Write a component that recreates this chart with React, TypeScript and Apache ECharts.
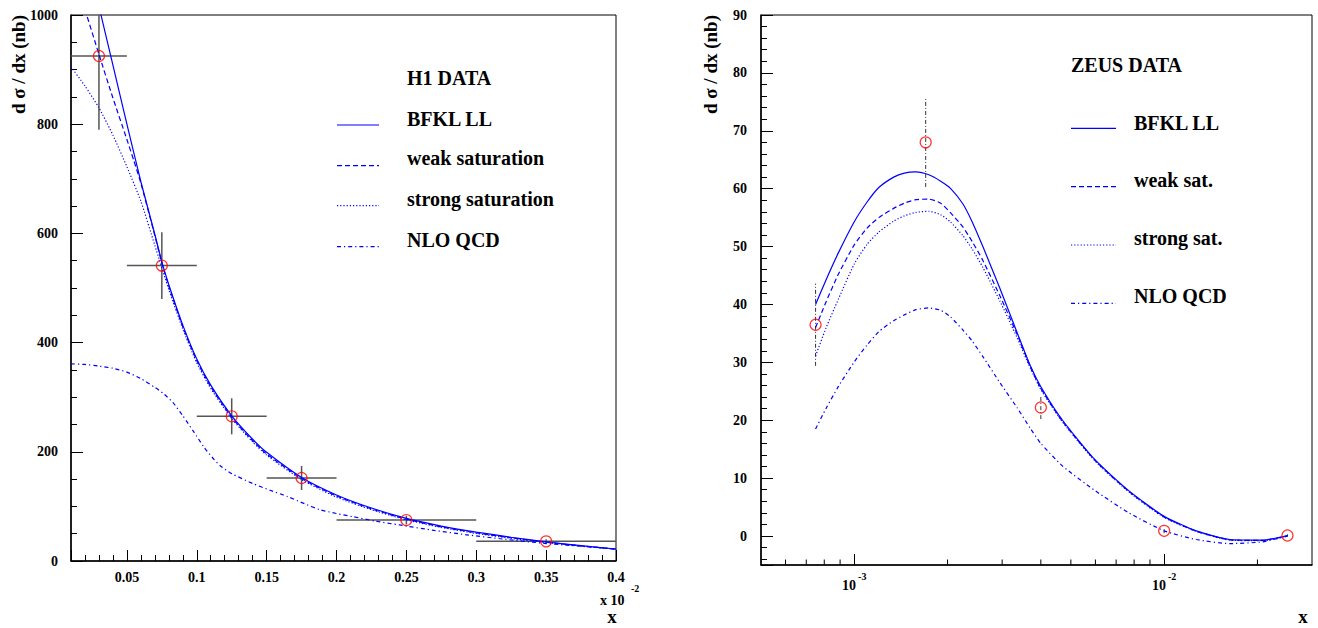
import React, { useEffect, useRef } from "react";
import * as echarts from "echarts";

const FONT = "'Liberation Serif', 'Times New Roman', serif";
const BLUE = "#0000ff";

// ---------- Left panel (H1) ----------
const LEFT_X_MIN = 0.01;
const LEFT_X_MAX = 0.4;
const LEFT_Y_MIN = 0;
const LEFT_Y_MAX = 1000;

const h1X = [0.03, 0.075, 0.125, 0.175, 0.25, 0.35];
const h1Y = [925, 541, 265, 152, 75, 36];
const h1XLow = [0.01, 0.05, 0.1, 0.15, 0.2, 0.3];
const h1XHigh = [0.05, 0.1, 0.15, 0.2, 0.3, 0.4];
const h1YErr = [135, 61, 33, 22, 8, 4];

const leftBfklX = [0.03, 0.04, 0.05, 0.06, 0.07, 0.075, 0.08, 0.09, 0.1, 0.11, 0.125, 0.14, 0.15, 0.175, 0.2, 0.225, 0.25, 0.275, 0.3, 0.325, 0.35, 0.375, 0.4];
const leftBfklY = [1016, 908, 800, 695, 598, 548, 506, 432, 370, 322, 266, 223, 199, 153, 121, 97, 78, 64, 53, 43.5, 35, 28, 22];

const leftWeakX = [0.02, 0.03, 0.04, 0.05, 0.055, 0.06, 0.07, 0.075, 0.08, 0.09, 0.1, 0.11, 0.125, 0.14, 0.15, 0.175, 0.2, 0.225, 0.25, 0.275, 0.3, 0.325, 0.35, 0.375, 0.4];
const leftWeakY = [1010, 928, 848, 772, 733, 692, 596, 546, 503, 429, 367, 319, 263, 220, 196, 151, 119, 95.5, 76.5, 62.5, 51.5, 42.5, 34.5, 27.8, 21.8];

const leftStrongX = [0.01, 0.02, 0.03, 0.04, 0.05, 0.06, 0.07, 0.08, 0.09, 0.1, 0.11, 0.125, 0.14, 0.15, 0.175, 0.2, 0.225, 0.25, 0.275, 0.3, 0.325, 0.35, 0.375, 0.4];
const leftStrongY = [905, 870, 830, 780, 722, 659, 578, 497, 425, 363, 316, 261, 218, 194, 149, 117, 94, 75.5, 61.5, 50.5, 41.5, 34, 27.5, 21.5];

const leftNloX = [0.01, 0.02, 0.03, 0.04, 0.05, 0.06, 0.07, 0.076, 0.083, 0.09, 0.098, 0.105, 0.111, 0.117, 0.125, 0.14, 0.152, 0.165, 0.177, 0.188, 0.2, 0.212, 0.228, 0.245, 0.27, 0.293, 0.32, 0.35, 0.375, 0.4];
const leftNloY = [361, 360, 357, 353, 346, 334, 318, 307, 290, 266, 236, 209, 190, 174, 160, 142, 130, 118, 105, 94, 87, 81, 73, 66, 56, 48, 40, 32, 27, 22];

// ---------- Right panel (ZEUS) ----------
const RIGHT_X_MIN = 5e-4;
const RIGHT_X_MAX = 0.03;
const RIGHT_Y_MIN = -5;
const RIGHT_Y_MAX = 90;

const zeusX = [7.5e-4, 1.7e-3, 4.0e-3, 1.0e-2, 2.5e-2];
const zeusY = [36.5, 68.0, 22.2, 0.9, 0.1];
const zeusErr = [7.1, 7.7, 2.0, 0.4, 0.2];

const rightX = [7.5e-4, 8.1e-4, 8.9e-4, 1.0e-3, 1.1e-3, 1.2e-3, 1.34e-3, 1.45e-3, 1.58e-3, 1.74e-3, 1.9e-3, 2.04e-3, 2.24e-3, 2.4e-3, 2.6e-3, 2.95e-3, 3.35e-3, 3.7e-3, 4.0e-3, 4.7e-3, 6.0e-3, 7.7e-3, 1.0e-2, 1.27e-2, 1.63e-2, 2.08e-2, 2.5e-2];
const rightBfklY = [40.0, 44.2, 49.0, 54.3, 57.7, 60.2, 62.0, 62.7, 62.9, 62.4, 61.3, 60.1, 57.4, 54.3, 50.0, 42.8, 35.2, 29.4, 25.8, 20.0, 13.1, 7.8, 3.4, 0.9, -0.6, -0.7, 0.1];
const rightWeakY = [36.0, 40.4, 45.3, 50.3, 53.2, 55.0, 56.6, 57.5, 58.1, 58.2, 57.5, 55.9, 53.4, 50.9, 47.6, 41.5, 34.9, 29.2, 25.5, 19.8, 13.0, 7.7, 3.3, 0.85, -0.65, -0.75, 0.05];
const rightStrongY = [31.1, 35.9, 41.0, 47.0, 50.4, 52.5, 54.4, 55.3, 55.9, 56.1, 55.5, 54.3, 51.9, 49.6, 46.4, 40.6, 34.3, 29.0, 25.3, 19.7, 12.9, 7.6, 3.2, 0.8, -0.7, -0.8, 0.0];
const rightNloY = [18.5, 22.0, 25.9, 30.1, 33.0, 35.3, 37.2, 38.2, 39.1, 39.4, 39.0, 37.9, 35.6, 33.7, 31.0, 26.5, 22.2, 18.6, 16.0, 12.1, 7.8, 4.0, 0.9, -0.6, -1.3, -1.0, 0.0];

const logMinorTicks = [6e-4, 7e-4, 8e-4, 9e-4, 2e-3, 3e-3, 4e-3, 5e-3, 6e-3, 7e-3, 8e-3, 9e-3, 2e-2];

const leftLegend = ["BFKL LL", "weak saturation", "strong saturation", "NLO QCD"];
const rightLegend = ["BFKL LL", "weak sat.", "strong sat.", "NLO QCD"];

const DASH_SOLID: number[] | null = null;
const DASH_WEAK = [5, 3];
const DASH_STRONG = [1.2, 2];
const DASH_NLO = [4, 3, 1.2, 3];
const dashes = [DASH_SOLID, DASH_WEAK, DASH_STRONG, DASH_NLO];

const zip = (xs: number[], ys: number[]) => xs.map((x, i) => [x, ys[i]]);

function lineSeries(name: string, data: number[][], dash: number[] | null, axis: number) {
  return {
    name,
    type: "line",
    xAxisIndex: axis,
    yAxisIndex: axis,
    data,
    showSymbol: false,
    smooth: 0.2,
    clip: true,
    silent: true,
    lineStyle: { color: BLUE, width: 1.2, type: dash ? dash : "solid" },
    z: 3,
  };
}

const labelStyle = { fontFamily: FONT, fontSize: 14, fontWeight: "bold", color: "#000" };

function legendGraphics(
  items: string[],
  header: string,
  headerX: number,
  headerY: number,
  lineX1: number,
  lineX2: number,
  textX: number,
  lineYs: number[],
  textYs: number[]
) {
  const els: any[] = [
    {
      type: "text",
      x: headerX,
      y: headerY,
      style: { text: header, fontFamily: FONT, fontSize: 20, fontWeight: "bold", fill: "#000", align: "left", verticalAlign: "middle" },
    },
  ];
  items.forEach((t, i) => {
    els.push({
      type: "line",
      shape: { x1: lineX1, y1: lineYs[i], x2: lineX2, y2: lineYs[i] },
      style: { stroke: BLUE, lineWidth: 1.2, lineDash: dashes[i] || undefined },
    });
    els.push({
      type: "text",
      x: textX,
      y: textYs[i],
      style: { text: t, fontFamily: FONT, fontSize: 20, fontWeight: "bold", fill: "#000", align: "left", verticalAlign: "middle" },
    });
  });
  return els;
}

function buildOption() {
  const h1Err = h1X.map((x, i) => [x, h1Y[i], h1XLow[i], h1XHigh[i], h1Y[i] - h1YErr[i], h1Y[i] + h1YErr[i]]);
  const zeusErrData = zeusX.map((x, i) => [x, zeusY[i], zeusY[i] - zeusErr[i], zeusY[i] + zeusErr[i]]);

  return {
    animation: false,
    backgroundColor: "#fff",
    grid: [
      { left: 71, top: 15, width: 545, height: 546, show: true, borderColor: "#000", borderWidth: 1, backgroundColor: "transparent" },
      { left: 761, top: 15, width: 551, height: 550, show: true, borderColor: "#000", borderWidth: 1, backgroundColor: "transparent" },
    ],
    xAxis: [
      {
        type: "value",
        gridIndex: 0,
        min: LEFT_X_MIN,
        max: LEFT_X_MAX,
        splitNumber: 8,
        axisLine: { show: true, onZero: false, lineStyle: { color: "#000", width: 1.5 } },
        axisTick: { show: true, inside: true, length: 11, lineStyle: { color: "#000", width: 1 } },
        minorTick: { show: true, splitNumber: 5, length: 6, lineStyle: { color: "#000", width: 1 } },
        splitLine: { show: false },
        axisLabel: { ...labelStyle, margin: 9, showMinLabel: false, showMaxLabel: true, formatter: (v: number) => String(v) },
      },
      {
        type: "log",
        logBase: 10,
        gridIndex: 1,
        min: RIGHT_X_MIN,
        max: RIGHT_X_MAX,
        axisLine: { show: true, onZero: false, lineStyle: { color: "#000", width: 1.5 } },
        axisTick: { show: true, inside: true, length: 11, lineStyle: { color: "#000", width: 1 } },
        minorTick: { show: false },
        splitLine: { show: false },
        axisLabel: {
          margin: 6,
          showMinLabel: false,
          showMaxLabel: false,
          formatter: (v: number) => `{b|10}{s|${Math.round(Math.log10(v))}}`,
          rich: {
            b: { fontFamily: FONT, fontSize: 14, fontWeight: "bold", color: "#000", lineHeight: 28 },
            s: { fontFamily: FONT, fontSize: 10, fontWeight: "bold", color: "#000", lineHeight: 12, verticalAlign: "top", padding: [0, 0, 0, 2] },
          },
        },
      },
    ],
    yAxis: [
      {
        type: "value",
        gridIndex: 0,
        min: LEFT_Y_MIN,
        max: LEFT_Y_MAX,
        interval: 200,
        axisLine: { show: true, onZero: false, lineStyle: { color: "#000", width: 1.5 } },
        axisTick: { show: true, inside: true, length: 12, lineStyle: { color: "#000", width: 1 } },
        minorTick: { show: true, splitNumber: 4, length: 6, lineStyle: { color: "#000", width: 1 } },
        splitLine: { show: false },
        axisLabel: { ...labelStyle, margin: 13, formatter: (v: number) => String(v) },
      },
      {
        type: "value",
        gridIndex: 1,
        min: RIGHT_Y_MIN,
        max: RIGHT_Y_MAX,
        splitNumber: 10,
        axisLine: { show: true, onZero: false, lineStyle: { color: "#000", width: 1.5 } },
        axisTick: { show: true, inside: true, length: 12, lineStyle: { color: "#000", width: 1 } },
        minorTick: { show: true, splitNumber: 5, length: 6, lineStyle: { color: "#000", width: 1 } },
        splitLine: { show: false },
        axisLabel: { ...labelStyle, margin: 14, showMinLabel: false, formatter: (v: number) => String(v) },
      },
    ],
    series: [
      // H1 error bars
      {
        type: "custom",
        xAxisIndex: 0,
        yAxisIndex: 0,
        silent: true,
        clip: true,
        z: 2,
        data: h1Err,
        renderItem: (_p: any, api: any) => {
          const x = api.value(0);
          const y = api.value(1);
          const pl = api.coord([Math.max(api.value(2), LEFT_X_MIN), y]);
          const pr = api.coord([Math.min(api.value(3), LEFT_X_MAX), y]);
          const pb = api.coord([x, Math.max(api.value(4), LEFT_Y_MIN)]);
          const pt = api.coord([x, Math.min(api.value(5), LEFT_Y_MAX)]);
          const st = { stroke: "#555", lineWidth: 1.5 };
          return {
            type: "group",
            children: [
              { type: "line", shape: { x1: pl[0], y1: pl[1], x2: pr[0], y2: pr[1] }, style: st },
              { type: "line", shape: { x1: pb[0], y1: pb[1], x2: pt[0], y2: pt[1] }, style: st },
            ],
          };
        },
      },
      lineSeries("BFKL LL", zip(leftBfklX, leftBfklY), DASH_SOLID, 0),
      lineSeries("weak saturation", zip(leftWeakX, leftWeakY), DASH_WEAK, 0),
      lineSeries("strong saturation", zip(leftStrongX, leftStrongY), DASH_STRONG, 0),
      lineSeries("NLO QCD", zip(leftNloX, leftNloY), DASH_NLO, 0),
      {
        name: "H1 DATA",
        type: "scatter",
        xAxisIndex: 0,
        yAxisIndex: 0,
        data: zip(h1X, h1Y),
        symbol: "circle",
        symbolSize: 11,
        silent: true,
        itemStyle: { color: "transparent", borderColor: "#ff0000", borderWidth: 1.2 },
        z: 5,
      },
      // ZEUS error bars
      {
        type: "custom",
        xAxisIndex: 1,
        yAxisIndex: 1,
        silent: true,
        clip: true,
        z: 2,
        data: zeusErrData,
        renderItem: (_p: any, api: any) => {
          const x = api.value(0);
          const pb = api.coord([x, api.value(2)]);
          const pt = api.coord([x, api.value(3)]);
          return {
            type: "line",
            shape: { x1: pb[0], y1: pb[1], x2: pt[0], y2: pt[1] },
            style: { stroke: "#333", lineWidth: 1, lineDash: [4, 2, 1, 2] },
          };
        },
      },
      lineSeries("BFKL LL ", zip(rightX, rightBfklY), DASH_SOLID, 1),
      lineSeries("weak sat.", zip(rightX, rightWeakY), DASH_WEAK, 1),
      lineSeries("strong sat.", zip(rightX, rightStrongY), DASH_STRONG, 1),
      lineSeries("NLO QCD ", zip(rightX, rightNloY), DASH_NLO, 1),
      {
        name: "ZEUS DATA",
        type: "scatter",
        xAxisIndex: 1,
        yAxisIndex: 1,
        data: zip(zeusX, zeusY),
        symbol: "circle",
        symbolSize: 11,
        silent: true,
        itemStyle: { color: "transparent", borderColor: "#ff0000", borderWidth: 1.2 },
        z: 5,
      },
      // log-axis minor ticks
      {
        type: "custom",
        xAxisIndex: 1,
        yAxisIndex: 1,
        silent: true,
        clip: false,
        z: 6,
        data: logMinorTicks.map((v) => [v, RIGHT_Y_MIN]),
        renderItem: (_p: any, api: any) => {
          const p = api.coord([api.value(0), api.value(1)]);
          return {
            type: "line",
            shape: { x1: p[0], y1: p[1], x2: p[0], y2: p[1] - 5.5 },
            style: { stroke: "#000", lineWidth: 1 },
          };
        },
      },
    ],
    graphic: [
      // axis titles
      {
        type: "text",
        x: 18,
        y: 15,
        rotation: Math.PI / 2,
        style: { text: "d σ / dx (nb)", fontFamily: FONT, fontSize: 19, fontWeight: "bold", fill: "#000", align: "right", verticalAlign: "middle" },
      },
      {
        type: "text",
        x: 710,
        y: 15,
        rotation: Math.PI / 2,
        style: { text: "d σ / dx (nb)", fontFamily: FONT, fontSize: 19, fontWeight: "bold", fill: "#000", align: "right", verticalAlign: "middle" },
      },
      {
        type: "text",
        x: 612,
        y: 616,
        style: { text: "x", fontFamily: FONT, fontSize: 19, fontWeight: "bold", fill: "#000", align: "center", verticalAlign: "middle" },
      },
      {
        type: "text",
        x: 1303,
        y: 616,
        style: { text: "x", fontFamily: FONT, fontSize: 19, fontWeight: "bold", fill: "#000", align: "center", verticalAlign: "middle" },
      },
      {
        type: "text",
        x: 600,
        y: 600,
        style: { text: "x 10", fontFamily: FONT, fontSize: 14, fontWeight: "bold", fill: "#000", align: "left", verticalAlign: "middle" },
      },
      {
        type: "text",
        x: 631,
        y: 588,
        style: { text: "-2", fontFamily: FONT, fontSize: 10, fontWeight: "bold", fill: "#000", align: "left", verticalAlign: "middle" },
      },
      ...legendGraphics(leftLegend, "H1 DATA", 407, 78, 337, 379, 407, [125, 165.7, 205.7, 246.7], [119, 158, 199, 240]),
      ...legendGraphics(rightLegend, "ZEUS DATA", 1071, 65, 1071, 1116, 1134, [128.3, 186.7, 245, 303.3], [123, 180, 238, 296]),
    ],
  };
}

export default function App() {
  const ref = useRef<HTMLDivElement>(null);
  useEffect(() => {
    if (!ref.current) return;
    const chart = echarts.init(ref.current, null, { renderer: "svg" });
    chart.setOption(buildOption() as any);
    return () => chart.dispose();
  }, []);
  return (
    <div
      ref={ref}
      style={{ position: "absolute", left: 0, top: 0, width: 1318, height: 628, background: "#fff" }}
    />
  );
}
